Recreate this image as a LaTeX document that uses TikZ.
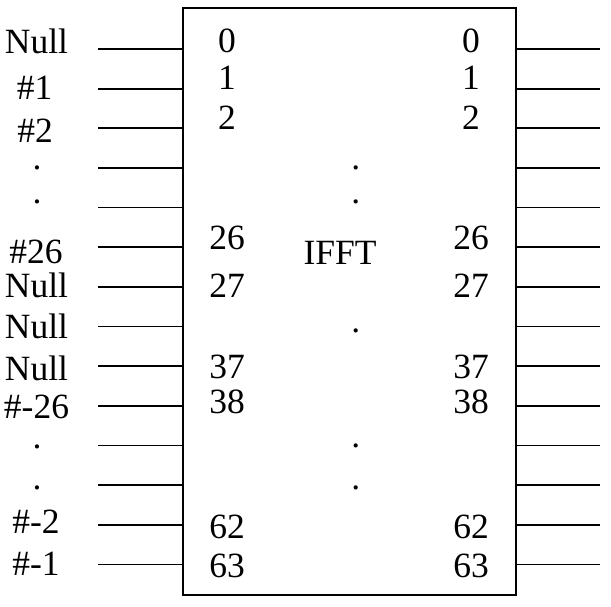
\documentclass[tikz,border=0pt]{standalone}
\usepackage{fontspec}
\setmainfont{Liberation Serif}
\begin{document}
\begin{tikzpicture}[x=1pt,y=-1pt,
  lbl/.style={anchor=base,inner sep=0pt,font=\fontsize{35.5}{40}\selectfont},
  stub/.style={line width=1.8pt},
  boxst/.style={draw,line width=2pt,minimum width=333pt,minimum height=587pt,inner sep=0pt}]
\useasboundingbox (0,0) rectangle (611,607);
\node[boxst] (fft) at (349.5,301.5) {};
% stubs
\foreach \i in {0,...,13}{
  \coordinate (L\i) at (98,{49+39.65*\i});
  \coordinate (R\i) at (600,{49+39.65*\i});
  \draw[stub] (L\i) -- (L\i -| fft.west);
  \draw[stub] (R\i) -- (R\i -| fft.east);
}
% left labels
\node[lbl] (l0) at (36.5,54) {Null};
\node[lbl] (l1) at (34.5,99.5) {\#1};
\node[lbl] (l2) at (35,143) {\#2};
\node[lbl] (l3) at (37,170) {.};
\node[lbl] (l4) at (37,204) {.};
\node[lbl] (l5) at (36,263) {\#26};
\node[lbl] (l6) at (36.5,297) {Null};
\node[lbl] (l7) at (36.5,338) {Null};
\node[lbl] (l8) at (36.5,380) {Null};
\node[lbl] (l9) at (36.5,418) {\#-26};
\node[lbl] (l10) at (37,448) {.};
\node[lbl] (l11) at (37,489) {.};
\node[lbl] (l12) at (36,533) {\#-2};
\node[lbl] (l13) at (36,575) {\#-1};
% inner numbers
\foreach \n/\yy/\k in {0/53/a,1/89.5/b,2/130/c,26/250/d,27/297/e,37/378/f,38/413/g,62/538/h,63/577/i}{
  \node[lbl] (il\k) at (227,\yy) {\n};
  \node[lbl] (ir\k) at (471,\yy) {\n};
}
% centre
\node[lbl] (ifft) at (340,265) {IFFT};
\node[lbl] (m1) at (355.7,170) {.};
\node[lbl] (m2) at (355.7,204) {.};
\node[lbl] (m3) at (355.7,332) {.};
\node[lbl] (m4) at (355.7,447) {.};
\node[lbl] (m5) at (355.7,489) {.};
\end{tikzpicture}
\end{document}
